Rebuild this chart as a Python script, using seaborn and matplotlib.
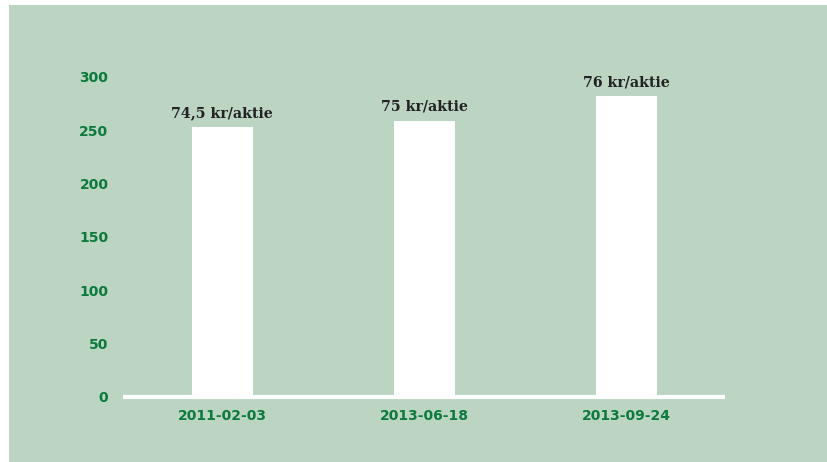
"""Dividend bar chart: kr/aktie per date."""

import matplotlib
matplotlib.use("Agg")
import matplotlib.pyplot as plt
import pandas as pd
import seaborn as sns

dates = ["2011-02-03", "2013-06-18", "2013-09-24"]
values = [253, 259, 282]
labels = ["74,5 kr/aktie", "75 kr/aktie", "76 kr/aktie"]
yticks = [0, 50, 100, 150, 200, 250, 300]

BG = "#bcd5c3"
GREEN = "#0b7a3c"
DARK = "#222222"

df = pd.DataFrame({"date": dates, "value": values})

W, H = 828, 462
fig = plt.figure(figsize=(W / 100, H / 100), dpi=100, facecolor="white")
# green panel, inset from the top/left edges
fig.patches.append(plt.Rectangle((9 / W, 0), 1, 1 - 5 / H, transform=fig.transFigure,
                                 facecolor=BG, edgecolor="none", zorder=-10))

ax = fig.add_axes([121 / W, 65 / H, 607 / W, 320 / H])
ax.set_facecolor(BG)

sns.barplot(data=df, x="date", y="value", color="white", width=0.3,
            saturation=1, ax=ax, zorder=2)

for patch, text in zip(ax.patches, labels):
    ax.annotate(text, (patch.get_x() + patch.get_width() / 2, patch.get_height()),
                xytext=(0, 5), textcoords="offset points", ha="center", va="bottom",
                fontsize=10.2, fontweight="bold", family="DejaVu Serif", color=DARK)

ax.set_xlim(-0.5, 2.5)
ax.set_ylim(0, 300)
ax.set_yticks(yticks)
ax.set_xlabel("")
ax.set_ylabel("")

for side in ["top", "right", "left"]:
    ax.spines[side].set_visible(False)
ax.spines["bottom"].set_color("white")
ax.spines["bottom"].set_linewidth(3)
ax.spines["bottom"].set_capstyle("butt")
ax.spines["bottom"].set_bounds(-0.49, 2.485)
ax.spines["bottom"].set_zorder(3)

ax.tick_params(axis="both", length=0, labelcolor=GREEN, labelsize=10)
ax.tick_params(axis="y", pad=9)
ax.tick_params(axis="x", pad=9)
for lbl in ax.get_xticklabels() + ax.get_yticklabels():
    lbl.set_fontweight("bold")

fig.savefig("out.png", dpi=100, facecolor=fig.get_facecolor())
plt.close(fig)
